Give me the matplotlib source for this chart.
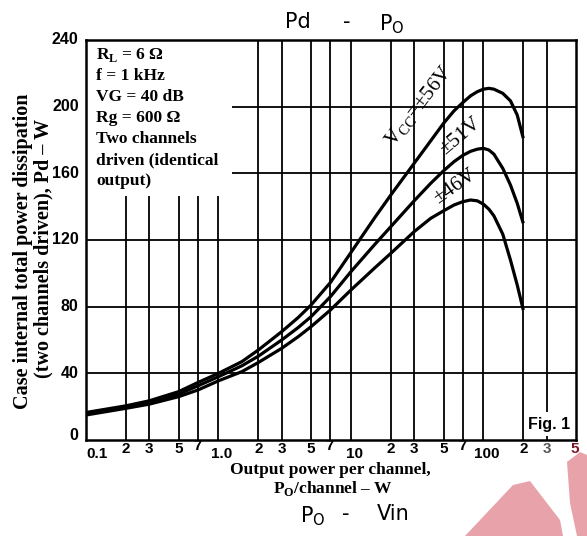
import matplotlib
matplotlib.use('Agg')
import matplotlib.pyplot as plt
from matplotlib.patches import Polygon, Rectangle
from matplotlib.transforms import blended_transform_factory

plt.rcParams['mathtext.fontset'] = 'custom'
plt.rcParams['mathtext.rm'] = 'Liberation Serif'

# ---------------- data ----------------
po = [0.1, 0.2, 0.3, 0.5, 0.7, 1, 1.5, 2, 3, 4, 5, 7, 10, 15, 20, 30, 40, 50,
      60, 70, 80, 90, 100, 110, 120, 140, 160, 180, 200]
pd_56 = [16.5, 20.5, 23.5, 29, 34.5, 40, 47, 54, 65, 73.5,
         81, 94.5, 112.5, 133, 147, 166, 179.5, 190, 197.5, 202.5,
         206.5, 209, 210.5, 211, 210.5, 208, 203.5, 195, 181]
pd_51 = [15.8, 19.8, 22.5, 27.5, 32.5, 38, 44.5, 50.3, 60, 67.5,
         74, 86, 101, 117, 128, 143.5, 154, 161.5, 167, 170.8,
         173.2, 174.5, 175, 174, 171.5, 163, 153, 142, 130]
pd_46 = [15, 19, 21.5, 26, 30, 35.5, 41, 46.5, 55, 62,
         68, 78, 90, 103, 112, 125, 133, 137.5, 141, 143,
         144, 143.5, 141.5, 138.5, 134.5, 123.5, 108, 93, 78]

grid_x = [0.2, 0.3, 0.5, 0.7, 1, 2, 3, 5, 7, 10, 20, 30, 50, 70, 100, 200, 300]
grid_y = [40, 80, 120, 160, 200]
ytick_vals = [0, 40, 80, 120, 160, 200, 240]
xtick_vals = [0.1, 0.2, 0.3, 0.5, 0.7, 1, 2, 3, 5, 7, 10, 20, 30, 50, 70, 100, 200, 300, 500]
xtick_labels = ['0.1', '2', '3', '5', '7', '1.0', '2', '3', '5', '7', '10',
                '2', '3', '5', '7', '100', '2', '3', '5']

cond_lines = [r'R$_\mathregular{L}$ = 6 Ω', 'f = 1 kHz', 'VG = 40 dB', 'Rg = 600 Ω',
              'Two channels', 'driven (identical', 'output)']
curve_labels = [r'V$_\mathregular{CC}$=±56V', '±51V', '±46V']

# ---------------- figure ----------------
W, H = 587, 536
fig = plt.figure(figsize=(W / 100, H / 100), dpi=100)
fig.patch.set_facecolor('white')

def fx(px):
    return px / W

def fy(py):
    return 1 - py / H

# watermark (decorative)
wm = '#e8a2aa'
fig.patches.append(Polygon([(fx(465), fy(536)), (fx(513), fy(485)), (fx(530), fy(481)),
                            (fx(560), fy(520)), (fx(563), fy(536))],
                           closed=True, transform=fig.transFigure, facecolor=wm,
                           edgecolor='none', zorder=0))
fig.patches.append(Polygon([(fx(567), fy(462)), (fx(580), fy(452)), (fx(587), fy(455)),
                            (fx(587), fy(536)), (fx(577), fy(536)), (fx(570), fy(503))],
                           closed=True, transform=fig.transFigure, facecolor=wm,
                           edgecolor='none', zorder=0))

ax = fig.add_axes([fx(86), fy(440), (576 - 86) / W, 400 / H])
ax.set_xscale('log')
ax.set_xlim(0.1, 500)
ax.set_ylim(0, 240)
ax.set_facecolor('none')

for gx in grid_x:
    ax.axvline(gx, color='black', lw=1.3, zorder=1)
for gy in grid_y:
    ax.axhline(gy, color='black', lw=1.3, zorder=1)

for s in ax.spines.values():
    s.set_linewidth(1.8)
    s.set_zorder(5)

ax.set_xticks([])
ax.set_yticks([])
ax.minorticks_off()
ax.tick_params(which='both', length=0, labelbottom=False, labelleft=False)

# curves
for ys in (pd_56, pd_51, pd_46):
    ax.plot(po, ys, color='black', lw=2.3, solid_joinstyle='round',
            solid_capstyle='butt', zorder=4)

# white box for conditions
ax.add_patch(Rectangle((0, 0.61), 0.298, 0.39, transform=ax.transAxes,
                       facecolor='white', edgecolor='none', zorder=2))
for i, t in enumerate(cond_lines):
    fig.text(fx(96), fy(59 + 21 * i), t, fontsize=12.5, family='Liberation Serif',
             weight='bold', ha='left', va='baseline', zorder=6)

# Fig. 1 label
ax.text(0.9455, 0.04, 'Fig. 1', transform=ax.transAxes, fontsize=11.5,
        family='Liberation Sans', weight='bold', ha='center', va='center',
        bbox=dict(facecolor='white', edgecolor='none', pad=3), zorder=6)

# y tick labels
tr_y = blended_transform_factory(ax.transAxes, ax.transData)
for v in ytick_vals:
    ax.text(-0.015, v + (3 if v == 0 else 0), str(v), transform=tr_y, ha='right',
            va='center', fontsize=11.5, family='Liberation Sans', weight='bold')

# x tick labels
tr_x = blended_transform_factory(ax.transData, ax.transAxes)
for v, lab in zip(xtick_vals, xtick_labels):
    if '.' in lab or lab in ('10', '100'):
        dy, dx = -0.036, 1.06
    elif lab == '7':
        dy, dx = -0.015, 0.99
    else:
        dy, dx = -0.022, 1.0
    col = 'black'
    if v == 300:
        col = '#555555'
    if v == 500:
        col = '#7a1526'
    ha = 'center'
    if v == 0.1:
        ha = 'left'
        dx = 1.0
    if v == 500:
        dx = 0.985
    ax.text(v * dx, dy, lab, transform=tr_x, ha=ha, va='center', fontsize=11,
            family='Liberation Sans', weight='bold', color=col)

# axis labels
fig.text(fx(23), fy(251), 'Case internal total power dissipation', rotation=90,
         ha='center', va='center', fontsize=14.5, family='Liberation Serif', weight='bold')
fig.text(fx(43), fy(248), '(two channels driven), Pd – W', rotation=90,
         ha='center', va='center', fontsize=14.5, family='Liberation Serif', weight='bold')
fig.text(fx(330), fy(470), 'Output power per channel,', ha='center', va='center',
         fontsize=12.5, family='Liberation Serif', weight='bold')
fig.text(fx(333), fy(489), r'P$_\mathregular{O}$/channel – W', ha='center', va='center',
         fontsize=12.5, family='Liberation Serif', weight='bold')

# titles (pieces placed separately)
mt = dict(ha='center', va='center', fontsize=15, family='DejaVu Sans')
fig.text(fx(298), fy(22), 'Pd', **mt)
fig.text(fx(347), fy(22), '-', **mt)
fig.text(fx(392), fy(24), r'P$_\mathregular{O}$', **mt)
fig.text(fx(313), fy(516), r'P$_\mathregular{O}$', **mt)
fig.text(fx(346), fy(514), '-', **mt)
fig.text(fx(393), fy(514), 'Vin', **mt)

# curve labels
lab_x = [33, 67, 61]
lab_y = [200, 182, 152]
lab_rot = [52, 40, 35]
for t, lx, ly, r in zip(curve_labels, lab_x, lab_y, lab_rot):
    ax.text(lx, ly, t, rotation=r, rotation_mode='anchor', ha='center', va='center',
            fontsize=15, family='Liberation Serif', zorder=6)

fig.savefig('out.png', dpi=100, facecolor='white')
